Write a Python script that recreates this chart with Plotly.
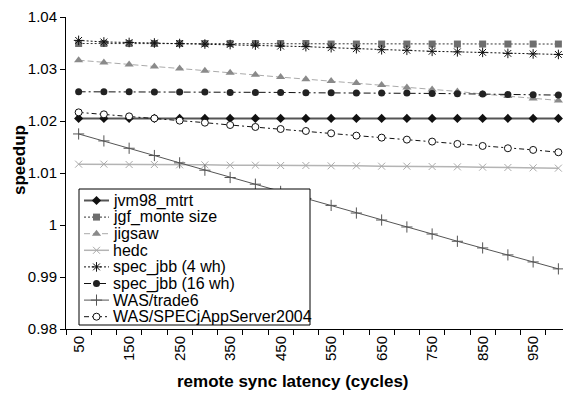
import plotly.graph_objects as go

latency = [50, 100, 150, 200, 250, 300, 350, 400, 450, 500,
           550, 600, 650, 700, 750, 800, 850, 900, 950, 1000]
tick_labels = ["50", "150", "250", "350", "450", "550", "650", "750", "850", "950"]
tick_values = [50, 150, 250, 350, 450, 550, 650, 750, 850, 950]
y_tick_values = [0.98, 0.99, 1.0, 1.01, 1.02, 1.03, 1.04]
y_tick_labels = ["0.98", "0.99", "1", "1.01", "1.02", "1.03", "1.04"]

jvm98_mtrt = [1.0205] * 20
jgf_monte = [1.0349] * 10 + [1.0348] * 10
jigsaw = [1.03169, 1.03125, 1.03086, 1.03048, 1.03010, 1.02965, 1.02927, 1.02888, 1.02844, 1.02805,
          1.02767, 1.02729, 1.02690, 1.02645, 1.02607, 1.02569, 1.02518, 1.02479, 1.02435, 1.02396]
hedc = [1.01170, 1.01170, 1.01163, 1.01163, 1.01157, 1.01157, 1.01150, 1.01150, 1.01144, 1.01144,
        1.01138, 1.01138, 1.01131, 1.01131, 1.01125, 1.01118, 1.01112, 1.01106, 1.01099, 1.01093]
spec_jbb_4 = [1.0355, 1.0352, 1.0351, 1.0350, 1.0349, 1.0348, 1.0347, 1.0346, 1.0344, 1.0343,
              1.0341, 1.0339, 1.0337, 1.0336, 1.0334, 1.0333, 1.0332, 1.0330, 1.0329, 1.0328]
spec_jbb_16 = [1.02562, 1.02562, 1.02562, 1.02556, 1.02556, 1.02556, 1.02550, 1.02550, 1.02550, 1.02543,
               1.02543, 1.02537, 1.02537, 1.02537, 1.02530, 1.02524, 1.02518, 1.02511, 1.02505, 1.02498]
was_trade6 = [1.01751, 1.01617, 1.01476, 1.01336, 1.01195, 1.01054, 1.00913, 1.00785, 1.00646, 1.00511,
              1.00377, 1.00230, 1.00096, 0.99962, 0.99827, 0.99687, 0.99559, 0.99425, 0.99290, 0.99156]
was_specj = [1.02166, 1.02128, 1.02089, 1.02050, 1.02007, 1.01968, 1.01923, 1.01885, 1.01846, 1.01808,
             1.01763, 1.01719, 1.01680, 1.01642, 1.01604, 1.01559, 1.01520, 1.01476, 1.01444, 1.01399]

series_names = ["jvm98_mtrt", "jgf_monte size", "jigsaw", "hedc",
                "spec_jbb (4 wh)", "spec_jbb (16 wh)", "WAS/trade6", "WAS/SPECjAppServer2004"]
series_values = [jvm98_mtrt, jgf_monte, jigsaw, hedc, spec_jbb_4, spec_jbb_16, was_trade6, was_specj]

styles = [
    (dict(color="#555555", width=2, dash="solid"),
     dict(symbol="diamond", size=7, color="#111111")),
    (dict(color="#333333", width=1, dash="2px,2px"),
     dict(symbol="square", size=7, color="#6e6e6e")),
    (dict(color="#aaaaaa", width=1, dash="6px,3px"),
     dict(symbol="triangle-up", size=8, color="#8a8a8a")),
    (dict(color="#b4b4b4", width=1.5, dash="solid"),
     dict(symbol="x-thin-open", size=7, color="#aaaaaa", line=dict(width=1, color="#aaaaaa"))),
    (dict(color="#111111", width=1, dash="2px,2px"),
     dict(symbol="asterisk-open", size=8, color="#111111", line=dict(width=1, color="#111111"))),
    (dict(color="#111111", width=1, dash="7px,3px,2px,3px"),
     dict(symbol="circle", size=7, color="#222222")),
    (dict(color="#555555", width=1, dash="solid"),
     dict(symbol="cross-thin-open", size=8, color="#555555", line=dict(width=1, color="#555555"))),
    (dict(color="#111111", width=1, dash="5px,3px,2px,3px"),
     dict(symbol="circle", size=7, color="white", line=dict(width=1, color="#111111"))),
]

# ---- layout geometry (page pixels; the page body adds an 8px margin) ----
BODY = 8
PL, PR, PT, PB = 66, 571, 17, 329          # plot area on the page
FIG_W, FIG_H = 571 - BODY, 396 - BODY


def px_x(px):
    return (px - PL) / (PR - PL)


def px_y(py):
    return (PB - py) / (PB - PT)


fig = go.Figure()
for name, vals, (line, marker) in zip(series_names, series_values, styles):
    fig.add_trace(go.Scatter(x=latency, y=vals, name=name, mode="lines+markers",
                             line=line, marker=marker, showlegend=False))

# ---- legend drawn in an overlay subplot measured in page pixels ----
LEG_L, LEG_R, LEG_T, LEG_B = 79, 310, 189, 325
fig.add_trace(go.Scatter(x=[LEG_L, LEG_R, LEG_R, LEG_L, LEG_L],
                         y=[LEG_T, LEG_T, LEG_B, LEG_B, LEG_T],
                         xaxis="x2", yaxis="y2", mode="lines", fill="toself",
                         fillcolor="white", line=dict(color="black", width=1),
                         showlegend=False, hoverinfo="skip"))
ROW0, ROW_STEP = 200.5, 16.6
SAMPLE_X0, SAMPLE_X1 = 84, 109
for i, (name, (line, marker)) in enumerate(zip(series_names, styles)):
    yy = ROW0 + ROW_STEP * i
    fig.add_trace(go.Scatter(x=[SAMPLE_X0, SAMPLE_X1], y=[yy, yy], xaxis="x2", yaxis="y2",
                             mode="lines", line=line, showlegend=False, hoverinfo="skip"))
    fig.add_trace(go.Scatter(x=[(SAMPLE_X0 + SAMPLE_X1) / 2], y=[yy], xaxis="x2", yaxis="y2",
                             mode="markers", marker=marker, showlegend=False, hoverinfo="skip"))
    fig.add_annotation(text=name, x=111, y=yy, xref="x2", yref="y2", xanchor="left",
                       yanchor="middle", showarrow=False, font=dict(size=16))

font_family = "Liberation Sans, Arial, sans-serif"
fig.update_layout(
    width=FIG_W, height=FIG_H,
    margin=dict(l=PL - BODY, r=FIG_W - (PR - BODY), t=PT - BODY, b=FIG_H - (PB - BODY)),
    plot_bgcolor="white", paper_bgcolor="white",
    font=dict(family=font_family, color="black", size=15),
    showlegend=False,
    xaxis=dict(range=[25, 1025], tickvals=tick_values, ticktext=tick_labels,
               tickangle=-90, ticks="", showgrid=False, zeroline=False, automargin=False,
               showline=True, linecolor="black", linewidth=1, ticklabeloverflow="allow",
               minor=dict(ticks="outside", tick0=25, dtick=50, ticklen=5,
                          tickcolor="black", showgrid=False),
               tickfont=dict(size=15)),
    yaxis=dict(range=[0.98, 1.0400001], tickvals=y_tick_values, ticktext=y_tick_labels,
               ticks="outside", ticklen=5, tickcolor="black", showgrid=False, automargin=False,
               zeroline=False, showline=True, linecolor="black", linewidth=1,
               ticklabeloverflow="allow", tickfont=dict(size=15)),
    xaxis2=dict(range=[PL, PR], overlaying="x", visible=False, fixedrange=True),
    yaxis2=dict(range=[PB, PT], overlaying="y", visible=False, fixedrange=True),
)

fig.add_annotation(text="<b>remote sync latency (cycles)</b>",
                   x=px_x(293), y=px_y(381), xref="paper", yref="paper",
                   showarrow=False, font=dict(size=17), xanchor="center", yanchor="middle")
fig.add_annotation(text="<b>speedup</b>", textangle=-90,
                   x=px_x(19), y=px_y(160), xref="paper", yref="paper",
                   showarrow=False, font=dict(size=17), xanchor="center", yanchor="middle")

fig.write_html("out.html")
